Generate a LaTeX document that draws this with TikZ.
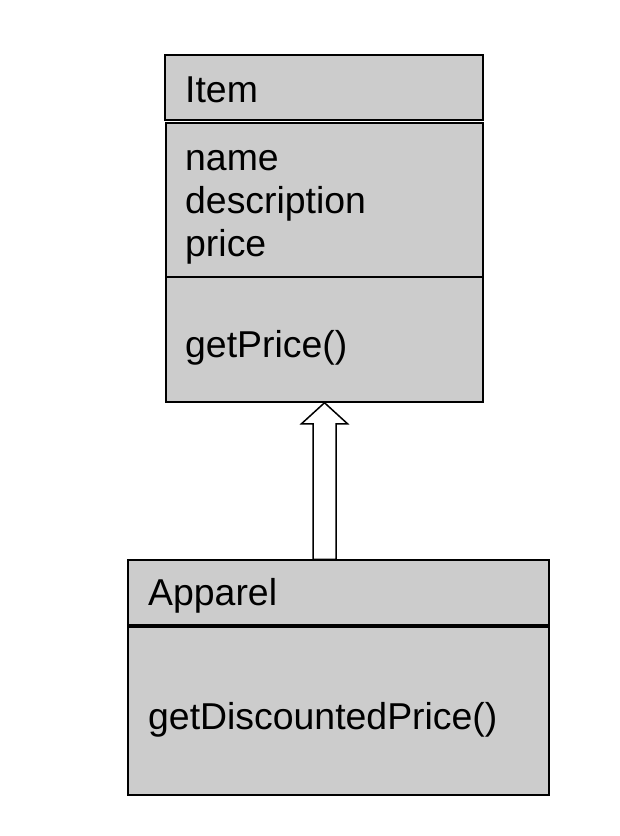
\documentclass[tikz,border=0pt]{standalone}
\usepackage{fontspec}
\setmainfont{Liberation Sans}
\usetikzlibrary{calc}
\definecolor{boxgray}{RGB}{204,204,204}
\begin{document}
\begin{tikzpicture}[x=1pt,y=-1pt,
  umlbox/.style={draw=black, fill=boxgray, line width=1.5pt, rectangle, inner sep=0pt},
  txt/.style={anchor=base west, inner sep=0pt, font=\fontsize{37.4}{43}\selectfont},
  genarrow/.style={draw=black, fill=white, line width=1.5pt, line join=miter}]
\useasboundingbox (0,0) rectangle (620,836);
% Item class
\node[umlbox, minimum width=318pt, minimum height=65pt] (itemh) at (324,87.5) {};
\node[umlbox, minimum width=317pt, minimum height=279pt] (itemb) at (324.5,262.5) {};
\coordinate (divl) at ($(itemb.west |- 0,277)$);
\coordinate (divr) at ($(itemb.east |- 0,277)$);
\draw[line width=1.5pt] (divl) -- (divr);
\node[txt] (tItem) at (185,102) {Item};
\node[txt] (tName) at (185,170) {name};
\node[txt] (tDesc) at (185,213) {description};
\node[txt] (tPrice) at (185,256) {price};
\node[txt] (tGetPrice) at (185,357) {getPrice()};
% Apparel class
\node[umlbox, minimum width=421pt, minimum height=65pt] (apph) at (338.5,592.5) {};
\node[umlbox, minimum width=421pt, minimum height=168pt] (appb) at (338.5,711) {};
\node[txt] (tApparel) at (148,605) {Apparel};
\node[txt] (tDisc) at (148,729) {getDiscountedPrice()};
% generalization arrow
\coordinate (tip) at (itemb.south);
\coordinate (bot) at (tip |- apph.north);
\draw[genarrow] (tip) -- ($(tip)+(23,21)$) -- ($(tip)+(11.5,21)$) -- ($(bot)+(11.5,0)$)
  -- ($(bot)+(-11.5,0)$) -- ($(tip)+(-11.5,21)$) -- ($(tip)+(-23,21)$) -- cycle;
\end{tikzpicture}
\end{document}
